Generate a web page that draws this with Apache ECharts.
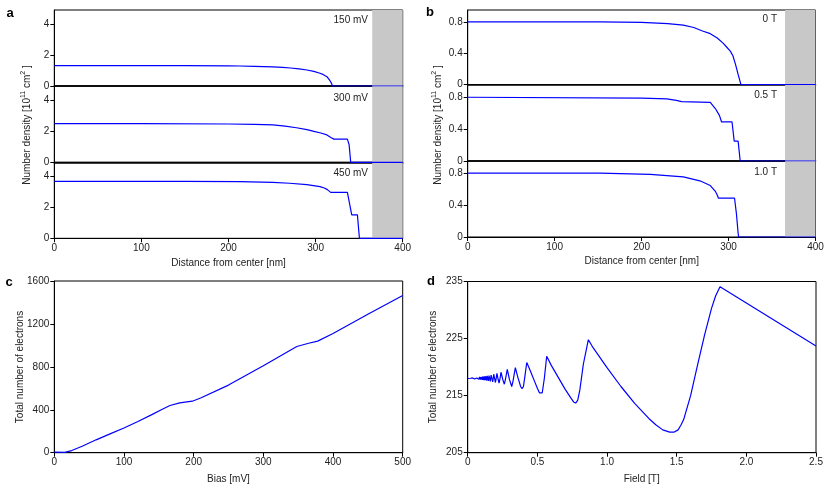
<!DOCTYPE html>
<html><head><meta charset="utf-8">
<script src="https://cdn.jsdelivr.net/npm/echarts@6/dist/echarts.min.js"></script>
<style>html,body{margin:0;padding:0;background:#fff}#c{width:830px;height:490px}</style>
</head><body><div id="c"></div>
<script>
// ---------- Panel a: number density vs distance (bias) ----------
const distA150 = [0,100,150,200,213,230,251,262,271,281,290,298,305,309,313,315,316.5,318,319.6,400];
const densA150 = [1.32,1.32,1.315,1.30,1.29,1.27,1.23,1.20,1.16,1.10,1.03,0.94,0.82,0.73,0.60,0.48,0.34,0.20,0,0];
const distA300 = [0,100,200,230,251,265,278,290,298,306,313,318,321,336.5,338.5,340.3,400];
const densA300 = [2.49,2.48,2.46,2.43,2.40,2.32,2.22,2.10,1.99,1.88,1.76,1.58,1.49,1.49,1.12,0,0];
const distA450 = [0,150,213,251,270,290,305,310,313.5,317.3,336.5,341.5,348,350.3,400];
const densA450 = [3.67,3.67,3.66,3.61,3.55,3.46,3.33,3.24,3.14,2.96,2.96,1.51,1.51,0,0];
const labelsA = ['150 mV','300 mV','450 mV'];
// ---------- Panel b: number density vs distance (field) ----------
const distB0 = [0,152,200,230,248,260,270,279,287,294,298,302,305,308,311,313,314.2,400];
const densB0 = [0.808,0.808,0.80,0.785,0.765,0.735,0.69,0.655,0.60,0.53,0.48,0.43,0.37,0.26,0.13,0.05,0,0];
const distB05 = [0,200,229,240,246,248,279,285,289.6,292,304,306.5,311,313.4,400];
const densB05 = [0.80,0.79,0.78,0.76,0.745,0.735,0.735,0.655,0.57,0.49,0.49,0.25,0.25,0,0];
const distB1 = [0,152,210,248,267,279,284.6,287,288.4,306.9,309,311,311.6,400];
const densB1 = [0.806,0.806,0.79,0.76,0.71,0.65,0.58,0.53,0.49,0.49,0.30,0.05,0,0];
const labelsB = ['0 T','0.5 T','1.0 T'];
const shadeStart = 365, shadeEnd = 400;
// ---------- Panel c: total electrons vs bias ----------
const biasC = [0,15,25,40,60,80,100,120,140,155,166,180,198,210,250,300,348,365,378,400,450,500];
const electronsC = [5,3,20,60,120,175,230,290,355,405,440,465,480,510,630,810,990,1020,1040,1110,1290,1465];
// ---------- Panel d: total electrons vs field ----------
const fieldD = [0,0.01,0.02,0.03,0.035,0.04,0.045,0.05,0.055,0.06,0.065,0.07,0.075,0.08,0.085,0.09,0.095,0.1,0.104,0.108,0.112,0.116,0.12,0.125,
 0.129,0.136,0.14,0.148,0.153,0.162,0.168,0.179,0.183,0.187,0.199,0.205,0.21,0.218,0.225,0.232,0.239,0.252,0.263,0.272,0.284,0.30,0.316,0.325,0.342,
 0.36,0.38,0.39,0.40,0.41,0.424,0.45,0.48,0.50,0.515,0.525,0.535,0.55,0.567,0.60,0.65,0.70,0.74,0.76,0.775,0.79,0.805,0.83,0.866,
 0.9,1.0,1.1,1.2,1.3,1.35,1.4,1.45,1.48,1.51,1.53,1.55,1.6,1.65,1.7,1.75,1.78,1.811,2.5];
const electronsD = [218.0,217.95,218.05,217.9,218.1,217.95,218.1,217.9,218.15,217.9,218.1,217.85,218.2,217.85,218.3,217.8,218.25,217.8,218.35,217.75,218.35,217.7,218.4,217.7,
 218.4,217.65,218.45,217.6,218.5,217.5,218.6,217.4,218.0,218.75,217.3,218.1,218.9,217.9,217.2,218.0,219.1,217.8,217.0,218.0,219.6,217.8,216.6,217.5,219.9,
 218.2,216.6,216.2,216.6,218.3,220.8,219.3,217.5,216.3,215.5,215.2,215.5,218.0,221.9,220.3,218.2,216.1,214.6,213.9,213.7,214.2,216.0,220.5,224.8,
 223.4,219.9,216.6,213.6,211.0,209.9,209.0,208.6,208.6,209.0,209.8,210.8,215.0,220.4,225.6,230.3,232.5,234.1,223.7];

const FONT = "'Liberation Sans', Arial, sans-serif";
const TXT = '#222';
const BLUE = '#0000ff';
const pairs = (xs, ys) => xs.map((x, i) => [x, ys[i]]);

const chart = echarts.init(document.getElementById('c'), null, {renderer: 'canvas'});

const grids = [
  {left: 54.3, width: 348.4, top: 10, height: 76},
  {left: 54.3, width: 348.4, top: 86, height: 76.3},
  {left: 54.3, width: 348.4, top: 162.3, height: 76},
  {left: 467.7, width: 347.8, top: 10, height: 74.5},
  {left: 467.7, width: 347.8, top: 84.5, height: 76.5},
  {left: 467.7, width: 347.8, top: 161, height: 76},
  {left: 54.3, width: 348.4, top: 281, height: 171.7},
  {left: 467.7, width: 348.3, top: 281.5, height: 171.2}
].map(g => Object.assign({show: true, borderColor: '#000', borderWidth: 1, backgroundColor: 'transparent', containLabel: false}, g));

function xAx(idx, min, max, interval, showLabels, fmt, thick) {
  return {
    type: 'value', gridIndex: idx, min, max, interval,
    axisLine: {show: true, onZero: false, lineStyle: {color: '#000', width: thick ? 1.6 : 1}},
    axisTick: {show: showLabels, inside: false, length: 4, lineStyle: {color: '#000'}},
    axisLabel: {show: showLabels, margin: 5, color: TXT, fontSize: 10, fontFamily: FONT, formatter: fmt},
    splitLine: {show: false}
  };
}
function yAx(idx, min, max, interval, vals, fmt) {
  return {
    type: 'value', gridIndex: idx, min, max, interval,
    axisLine: {show: true, onZero: false, lineStyle: {color: '#000', width: 1}},
    axisTick: {show: true, inside: false, length: 4, lineStyle: {color: '#000'}, customValues: vals},
    axisLabel: {show: true, margin: 5, color: TXT, fontSize: 10, fontFamily: FONT, customValues: vals,
      formatter: fmt || (v => (vals.some(t => Math.abs(t - v) < 1e-9) ? String(v) : ''))},
    splitLine: {show: false}
  };
}

const fmtInt = v => String(v);
const xAxes = [
  xAx(0, 0, 400, 100, false, fmtInt, true),
  xAx(1, 0, 400, 100, false, fmtInt, true),
  xAx(2, 0, 400, 100, true, fmtInt, false),
  xAx(3, 0, 400, 100, false, fmtInt, true),
  xAx(4, 0, 400, 100, false, fmtInt, true),
  xAx(5, 0, 400, 100, true, fmtInt, false),
  xAx(6, 0, 500, 100, true, fmtInt, false),
  xAx(7, 0, 2.5, 0.5, true, v => (v === 0 ? '0' : v.toFixed(1)), false)
];
const ticksA = [0, 2, 4];
const ticksB = [0, 0.4, 0.8];
const fmtB = v => (ticksB.some(t => Math.abs(t - v) < 1e-9) ? (v === 0 ? '0' : v.toFixed(1)) : '');
const yAxes = [
  yAx(0, 0, 4.9, 2, ticksA), yAx(1, 0, 4.9, 2, ticksA), yAx(2, 0, 4.9, 2, ticksA),
  yAx(3, 0, 0.96, 0.4, ticksB, fmtB), yAx(4, 0, 0.96, 0.4, ticksB, fmtB), yAx(5, 0, 0.96, 0.4, ticksB, fmtB),
  yAx(6, 0, 1600, 400, [0, 400, 800, 1200, 1600]),
  yAx(7, 205, 235, 10, [205, 215, 225, 235])
];

function lineSeries(idx, data, shade) {
  const s = {
    type: 'line', xAxisIndex: idx, yAxisIndex: idx, data,
    symbol: 'none', showSymbol: false, animation: false, clip: true,
    lineStyle: {color: BLUE, width: 1.2}, z: 5
  };
  if (shade) {
    s.markArea = {silent: true, itemStyle: {color: '#c8c8c8', opacity: 1}, z: 1,
      data: [[{xAxis: shadeStart}, {xAxis: shadeEnd}]]};
  }
  return s;
}

const series = [
  lineSeries(0, pairs(distA150, densA150), true),
  lineSeries(1, pairs(distA300, densA300), true),
  lineSeries(2, pairs(distA450, densA450), true),
  lineSeries(3, pairs(distB0, densB0), true),
  lineSeries(4, pairs(distB05, densB05), true),
  lineSeries(5, pairs(distB1, densB1), true),
  lineSeries(6, pairs(biasC, electronsC), false),
  lineSeries(7, pairs(fieldD, electronsD), false)
];

function txt(x, y, text, opts) {
  opts = opts || {};
  return {
    type: 'text', x, y, rotation: opts.rot || 0, silent: true, z: 100,
    style: {
      text, fill: opts.color || TXT, fontSize: opts.size || 10, fontFamily: FONT,
      fontWeight: opts.bold ? 'bold' : 'normal',
      align: opts.align || 'center', verticalAlign: 'middle',
      textAlign: opts.align || 'center', textVerticalAlign: 'middle',
      rich: opts.rich
    }
  };
}
const supRich = {s: {fontSize: 7, fontFamily: FONT, fill: TXT, padding: [0, 0, 7, 0]}};
const densName = 'Number density [10{s|11} cm{s|2} ]';

const graphics = [
  txt(10, 13, 'a', {bold: true, size: 13, color: '#000'}),
  txt(430, 12, 'b', {bold: true, size: 13, color: '#000'}),
  txt(9, 282, 'c', {bold: true, size: 13, color: '#000'}),
  txt(431, 281, 'd', {bold: true, size: 13, color: '#000'}),
  txt(368, 20, labelsA[0], {align: 'right'}),
  txt(368, 98, labelsA[1], {align: 'right'}),
  txt(368, 173, labelsA[2], {align: 'right'}),
  txt(777, 19, labelsB[0], {align: 'right'}),
  txt(777, 95, labelsB[1], {align: 'right'}),
  txt(777, 172, labelsB[2], {align: 'right'}),
  txt(27, 125, densName, {rot: Math.PI / 2, rich: supRich}),
  txt(438, 125, densName, {rot: Math.PI / 2, rich: supRich}),
  txt(228.5, 263, 'Distance from center [nm]'),
  txt(641.7, 261, 'Distance from center [nm]'),
  txt(20, 367, 'Total number of electrons', {rot: Math.PI / 2}),
  txt(433.5, 367, 'Total number of electrons', {rot: Math.PI / 2}),
  txt(228.5, 479, 'Bias [mV]'),
  txt(641.7, 479, 'Field [T]')
];

chart.setOption({
  animation: false,
  backgroundColor: '#fff',
  textStyle: {fontFamily: FONT},
  grid: grids,
  xAxis: xAxes,
  yAxis: yAxes,
  series,
  graphic: graphics
});
</script></body></html>
